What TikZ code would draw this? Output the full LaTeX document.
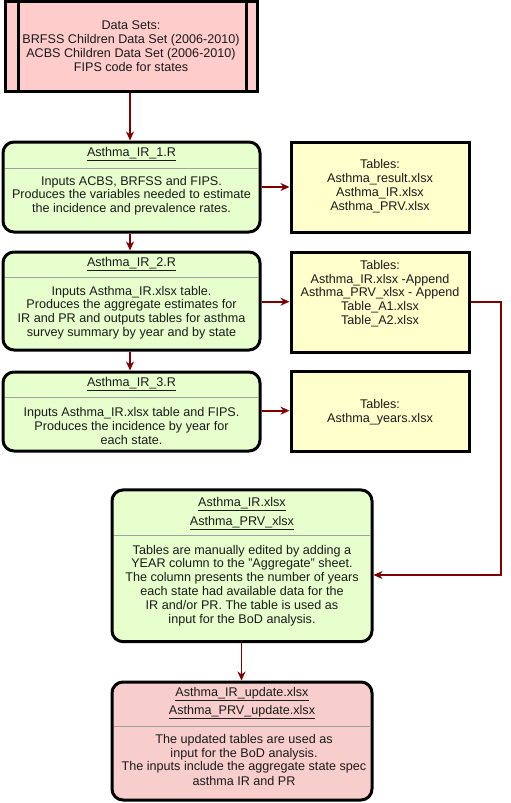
\documentclass[tikz,border=0pt]{standalone}
\usepackage{fontspec}
\setmainfont{Liberation Sans}
\usetikzlibrary{arrows.meta}
\definecolor{pinkA}{HTML}{FFCCCC}
\definecolor{pinkB}{HTML}{F8CECC}
\definecolor{greenF}{HTML}{E6FFCC}
\definecolor{yellowF}{HTML}{FFFFCC}
\definecolor{conn}{HTML}{7F0000}
\definecolor{sepgray}{HTML}{A0A0A0}
\definecolor{txtc}{HTML}{1A1A1A}
\tikzset{
  box/.style={draw=black, line width=3pt, inner sep=0pt},
  rbox/.style={box, rounded corners=11pt},
  txt/.style={align=center, font=\fontsize{12.6}{13.8}\selectfont, inner sep=0pt, text=txtc},
  link/.style={draw=conn, line width=1.6pt, -{Stealth[length=9pt,width=8pt]}},
  sep/.style={draw=sepgray, line width=0.8pt}
}
\begin{document}
\begin{tikzpicture}[x=1pt,y=-1pt]
\useasboundingbox (0,0) rectangle (511,803);
% top data box
\node[box, fill=pinkA, minimum width=252pt, minimum height=89.5pt] (data) at (131,46.25) {};
\draw[line width=3pt] (18,1.5) -- (18,91);
\draw[line width=3pt] (246,1.5) -- (246,91);
\node[txt] (datat) at (131,46) {Data Sets:\\BRFSS Children Data Set (2006-2010)\\ACBS Children Data Set (2006-2010)\\FIPS code for states};

% R scripts
\node[rbox, fill=greenF, minimum width=257pt, minimum height=90pt] (r1) at (131.5,187) {};
\node[txt] (r1t) at (131.5,154) {\underline{Asthma\_IR\_1.R}};
\draw[sep] (4.5,168) -- (258.5,168);
\node[txt] (r1b) at (131.5,195.7) {Inputs ACBS, BRFSS and FIPS.\\Produces the variables needed to estimate\\the incidence and prevalence rates.};

\node[rbox, fill=greenF, minimum width=257pt, minimum height=98pt] (r2) at (131.5,301) {};
\node[txt] (r2t) at (131.5,264) {\underline{Asthma\_IR\_2.R}};
\draw[sep] (4.5,277.7) -- (258.5,277.7);
\node[txt] (r2b) at (131.5,312.5) {Inputs Asthma\_IR.xlsx table.\\Produces the aggregate estimates for\\IR and PR and outputs tables for asthma\\survey summary by year and by state};

\node[rbox, fill=greenF, minimum width=257pt, minimum height=79pt] (r3) at (131.5,411.5) {};
\node[txt] (r3t) at (131.5,384) {\underline{Asthma\_IR\_3.R}};
\draw[sep] (4.5,397.7) -- (258.5,397.7);
\node[txt] (r3b) at (131.5,425.7) {Inputs Asthma\_IR.xlsx table and FIPS.\\Produces the incidence by year for\\each state.};

% tables
\node[box, fill=yellowF, minimum width=178pt, minimum height=90pt] (t1) at (380,187) {};
\node[txt] (t1t) at (380,186) {Tables:\\Asthma\_result.xlsx\\Asthma\_IR.xlsx\\Asthma\_PRV.xlsx};
\node[box, fill=yellowF, minimum width=178pt, minimum height=100pt] (t2) at (380,302) {};
\node[txt] (t2t) at (380,293.5) {Tables:\\Asthma\_IR.xlsx -Append\\Asthma\_PRV\_xlsx - Append\\Table\_A1.xlsx\\Table\_A2.xlsx};
\node[box, fill=yellowF, minimum width=178pt, minimum height=79.7pt] (t3) at (380,411.8) {};
\node[txt] (t3t) at (380,412) {Tables:\\Asthma\_years.xlsx};

% big green
\node[rbox, fill=greenF, minimum width=260pt, minimum height=151.7pt] (big) at (242,565.8) {};
\node[txt] (bigt1) at (242,504) {\underline{Asthma\_IR.xlsx}};
\node[txt] (bigt2) at (242,522.7) {\underline{Asthma\_PRV\_xlsx}};
\draw[sep] (113.5,535) -- (370.5,535);
\node[txt] (bigb) at (242,585.4) {Tables are manually edited by adding a\\YEAR column to the "Aggregate" sheet.\\The column presents the number of years\\each state had available data for the\\IR and/or PR. The table is used as\\input for the BoD analysis.};

% pink bottom
\node[rbox, fill=pinkB, minimum width=260pt, minimum height=118pt] (pk) at (242,741) {};
\node[txt] (pkt1) at (242,694) {\underline{Asthma\_IR\_update.xlsx}};
\node[txt] (pkt2) at (242,712.3) {\underline{Asthma\_PRV\_update.xlsx}};
\draw[sep] (113.5,726) -- (370.5,726);
\node[txt] (pkb1) at (244,747) {The updated tables are used as\\input for the BoD analysis.};
\node[txt, anchor=west] (pkb2) at (121.5,767.7) {The inputs include the aggregate state spec};
\node[txt] (pkb3) at (244,781) {asthma IR and PR};

% connectors
\draw[link] (data.south -| 130,0) -- (r1.north -| 130,0);
\draw[link] (r1.south -| 130,0) -- (r2.north -| 130,0);
\draw[link] (r2.south -| 130,0) -- (r3.north -| 130,0);
\draw[link] (r1.east) -- (t1.west);
\draw[link] (r2.east |- 0,301.7) -- (t2.west |- 0,301.7);
\draw[link] (r3.east |- 0,410.7) -- (t3.west |- 0,410.7);
\coordinate (c1) at (500.7,302);
\coordinate (c2) at (500.7,575);
\draw[link] (t2.east |- c1) -- (c1) -- (c2) -- (big.east |- c2);
\draw[link] (big.south -| 241.5,0) -- (pk.north -| 241.5,0);
\end{tikzpicture}
\end{document}
